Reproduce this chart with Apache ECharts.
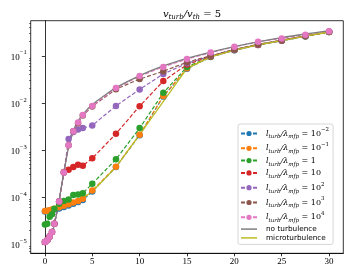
<!DOCTYPE html>
<html><head><meta charset="utf-8">
<script src="https://cdn.jsdelivr.net/npm/echarts@6/dist/echarts.min.js"></script>
<style>html,body{margin:0;padding:0;background:#fff}#c{width:353px;height:274px}</style>
</head><body><div id="c"></div>
<script>
const xs = [0, 0.25, 0.5, 0.75, 1, 1.5, 2, 2.5, 3, 3.5, 4, 5, 7.5, 10, 12.5, 15, 17.5, 20, 22.5, 25, 27.5, 30];
const blue   = [4.9e-5, 5.0e-5, 5.1e-5, 5.2e-5, 5.4e-5, 5.7e-5, 6.1e-5, 6.6e-5, 7.2e-5, 7.8e-5, 8.6e-5, 1.3e-4, 4.3e-4, 2.05e-3, 1.37e-2, 5.3e-2, 0.094, 0.131, 0.169, 0.209, 0.258, 0.318];
const orange = [5.0e-5, 5.1e-5, 5.2e-5, 5.4e-5, 5.6e-5, 6.0e-5, 6.5e-5, 7.0e-5, 7.6e-5, 8.2e-5, 9.2e-5, 1.37e-4, 4.4e-4, 2.1e-3, 1.39e-2, 5.4e-2, 0.095, 0.132, 0.17, 0.21, 0.26, 0.32];
const green  = [2.6e-5, 2.7e-5, 3.8e-5, 4.3e-5, 5.6e-5, 7.2e-5, 8.2e-5, 8.8e-5, 1.1e-4, 1.12e-4, 1.2e-4, 1.9e-4, 6.3e-4, 2.9e-3, 1.63e-2, 5.8e-2, 0.096, 0.133, 0.171, 0.211, 0.261, 0.321];
const red    = [1.1e-5, 1.2e-5, 1.45e-5, 1.8e-5, 2.7e-5, 8.0e-5, 3.4e-4, 3.8e-4, 4.3e-4, 4.8e-4, 4.6e-4, 6.6e-4, 2.2e-3, 8.5e-3, 0.029, 0.065, 0.098, 0.134, 0.172, 0.212, 0.262, 0.322];
const purple = [1.1e-5, 1.2e-5, 1.45e-5, 1.8e-5, 2.7e-5, 8.0e-5, 3.3e-4, 1.7e-3, 2.4e-3, 2.7e-3, 2.9e-3, 3.3e-3, 8.6e-3, 0.0193, 0.041, 0.069, 0.099, 0.135, 0.173, 0.213, 0.263, 0.323];
const brown  = [1.1e-5, 1.2e-5, 1.45e-5, 1.8e-5, 2.7e-5, 8.0e-5, 3.3e-4, 1.25e-3, 2.5e-3, 3.7e-3, 5.4e-3, 8.4e-3, 0.0195, 0.032, 0.047, 0.073, 0.1, 0.136, 0.175, 0.215, 0.265, 0.325];
const pink   = [1.1e-5, 1.2e-5, 1.45e-5, 1.8e-5, 2.7e-5, 8.0e-5, 3.3e-4, 1.25e-3, 2.5e-3, 3.8e-3, 5.5e-3, 8.6e-3, 0.0206, 0.037, 0.058, 0.085, 0.117, 0.155, 0.199, 0.234, 0.28, 0.33];
const xsGray = [0, 0.25, 0.5, 0.75, 1, 1.25, 1.5, 1.75, 2, 2.25, 2.5, 2.75, 3, 3.5, 4, 5, 6, 7.5, 10, 12.5, 15, 17.5, 20, 22.5, 25, 27.5, 30];
const gray   = [1.0e-5, 1.05e-5, 1.2e-5, 1.6e-5, 2.6e-5, 4.5e-5, 8.5e-5, 1.7e-4, 3.3e-4, 6.3e-4, 1.15e-3, 1.8e-3, 2.6e-3, 4.1e-3, 5.7e-3, 9.2e-3, 0.013, 0.021, 0.038, 0.061, 0.088, 0.12, 0.157, 0.198, 0.243, 0.29, 0.34];
const xsMicro = [0, 0.5, 1, 1.5, 2, 2.5, 3, 3.5, 4, 5, 6, 7.5, 8.75, 10, 15, 17.5, 20, 22.5, 25, 27.5, 30];
const micro  = [5.0e-5, 5.1e-5, 5.4e-5, 5.8e-5, 6.3e-5, 6.9e-5, 7.6e-5, 8.4e-5, 9.4e-5, 1.3e-4, 2.1e-4, 4.3e-4, 9.5e-4, 2.1e-3, 0.054, 0.095, 0.132, 0.17, 0.21, 0.26, 0.32];
const ratioExps = ['−2', '−1', '', '', '2', '3', '4'];
const ratioLabels = ['10', '10', '1', '10', '10', '10', '10'];
const xTicks = [0, 5, 10, 15, 20, 25, 30];
const yTicks = [1e-5, 1e-4, 1e-3, 1e-2, 1e-1];
const yMinor = [];
for (let e = -6; e <= -1; e++) for (let m = 2; m <= 9; m++) { const v = m * Math.pow(10, e); if (v > 6.4e-6 && v < 0.55) yMinor.push(v); }

const colors = ['#1f77b4', '#ff7f0e', '#2ca02c', '#d62728', '#9467bd', '#8c564b', '#e377c2'];
const serif = 'Liberation Serif';
const mserif = 'DejaVu Serif';
const sans = 'DejaVu Sans';
const names = ['r0', 'r1', 'r2', 'r3', 'r4', 'r5', 'r6'];
const dataSets = [blue, orange, green, red, purple, brown, pink];

const series = dataSets.map((d, i) => ({
  name: names[i], type: 'line', yAxisIndex: 0,
  data: xs.map((x, k) => [x, d[k]]),
  symbol: 'circle', symbolSize: 6.5,
  itemStyle: { color: colors[i] },
  lineStyle: { color: colors[i], width: 1.2, type: [4, 2] },
  emphasis: { disabled: true }, animation: false
}));
series.push({
  name: 'no turbulence', type: 'line', yAxisIndex: 0,
  data: xsGray.map((x, k) => [x, gray[k]]), symbol: 'none', smooth: 0.3,
  itemStyle: { color: '#7f7f7f' }, lineStyle: { color: '#7f7f7f', width: 1.3 }, animation: false
});
series.push({
  name: 'microturbulence', type: 'line', yAxisIndex: 0,
  data: xsMicro.map((x, k) => [x, micro[k]]), symbol: 'none',
  itemStyle: { color: '#bcbd22' }, lineStyle: { color: '#bcbd22', width: 1.3 }, animation: false
});

function legendFmt(name) {
  const i = names.indexOf(name);
  if (i < 0) return '{t|' + name + '}';
  let s = '{i|l}{sub|turb}{i|/λ}{sub|mfp}{n| = ' + ratioLabels[i] + '}';
  if (ratioExps[i]) s += '{sup|' + ratioExps[i] + '}';
  return s;
}

const legendData = names.map(n => ({ name: n })).concat([
  { name: 'no turbulence', itemStyle: { opacity: 0 }, lineStyle: { color: '#7f7f7f', width: 1.5, opacity: 1 } },
  { name: 'microturbulence', itemStyle: { opacity: 0 }, lineStyle: { color: '#bcbd22', width: 1.5, opacity: 1 } }
]);

const chart = echarts.init(document.getElementById('c'), null, { renderer: 'canvas' });
chart.setOption({
  animation: false,
  title: {
    text: '{i|v}{sub|turb}{i|/v}{sub|th}{n| = 5}', left: 187, top: 2, textAlign: 'center',
    textStyle: { rich: {
      i: { fontFamily: mserif, fontStyle: 'italic', fontWeight: 'normal', fontSize: 10, lineHeight: 14, verticalAlign: 'middle', color: '#000' },
      n: { fontFamily: mserif, fontWeight: 'normal', fontSize: 10, lineHeight: 14, verticalAlign: 'middle', color: '#000' },
      sub: { fontFamily: mserif, fontStyle: 'italic', fontWeight: 'normal', fontSize: 7, lineHeight: 8, verticalAlign: 'bottom', color: '#000' }
    } }
  },
  grid: { left: 30.7, right: 9.7, top: 20.7, bottom: 20.7, show: true, borderColor: '#000', borderWidth: 0.8 },
  xAxis: {
    type: 'value', min: -1.5, max: 31.5,
    axisLine: { show: true, lineStyle: { color: '#000', width: 0.8 } },
    axisTick: { show: true, length: 3, customValues: xTicks, lineStyle: { color: '#000', width: 0.8 } },
    axisLabel: { customValues: xTicks, fontFamily: serif, fontSize: 9, color: '#000', margin: 4 },
    splitLine: { show: false }
  },
  yAxis: [{
    type: 'log', logBase: 10, min: 6.34e-6, max: 0.556,
    axisLine: { show: true, lineStyle: { color: '#000', width: 0.8 } },
    axisTick: { show: true, length: 3, customValues: yTicks, lineStyle: { color: '#000', width: 0.8 } },
    axisLabel: {
      customValues: yTicks, margin: 4, color: '#000',
      formatter: v => '{b|10}{s|−' + Math.round(-Math.log10(v)) + '}',
      rich: {
        b: { fontFamily: serif, fontSize: 9, lineHeight: 13, verticalAlign: 'bottom', color: '#000' },
        s: { fontFamily: serif, fontSize: 6.5, lineHeight: 8, verticalAlign: 'top', color: '#000' }
      }
    },
    splitLine: { show: false }
  }, {
    type: 'log', logBase: 10, min: 6.34e-6, max: 0.556, position: 'left',
    axisLine: { show: false },
    axisTick: { show: true, length: 1.6, customValues: yMinor, lineStyle: { color: '#000', width: 0.6 } },
    axisLabel: { show: false }, splitLine: { show: false }
  }],
  legend: {
    orient: 'vertical', left: 238, top: 124, width: 101,
    padding: [3, 4, 3, 2],
    backgroundColor: 'rgba(255,255,255,0.8)', borderColor: '#cccccc', borderWidth: 0.8, borderRadius: 2,
    itemWidth: 16, itemHeight: 6.5, itemGap: 1.8,
    data: legendData,
    formatter: legendFmt,
    textStyle: {
      padding: [0, 0, 0, 4],
      rich: {
        i: { fontFamily: mserif, fontStyle: 'italic', fontSize: 8, lineHeight: 13, verticalAlign: 'middle', color: '#000' },
        n: { fontFamily: mserif, fontSize: 8, lineHeight: 13, verticalAlign: 'middle', color: '#000' },
        sub: { fontFamily: mserif, fontStyle: 'italic', fontSize: 5.5, lineHeight: 8, verticalAlign: 'bottom', color: '#000' },
        sup: { fontFamily: mserif, fontSize: 5.5, lineHeight: 8, verticalAlign: 'top', color: '#000' },
        t: { fontFamily: sans, fontSize: 7.3, lineHeight: 13, verticalAlign: 'middle', color: '#000' }
      }
    }
  },
  series: series
});
</script></body></html>
